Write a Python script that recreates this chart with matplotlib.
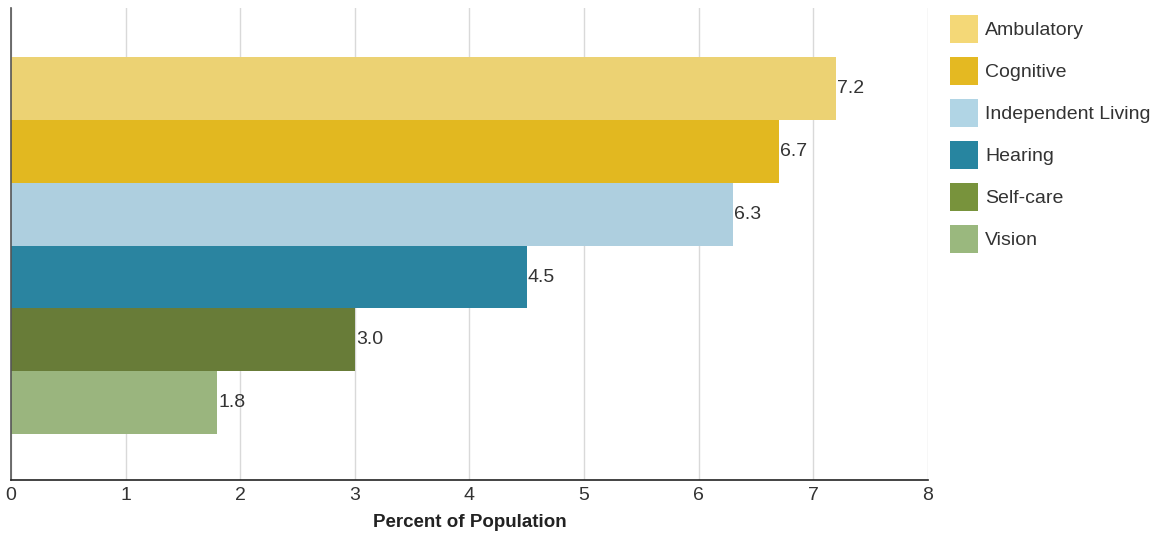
import matplotlib.pyplot as plt
from matplotlib.patches import Patch

# Disability types, percent of population
categorias = ['Ambulatory', 'Cognitive', 'Independent Living', 'Hearing', 'Self-care', 'Vision']
valores = [7.2, 6.7, 6.3, 4.5, 3.0, 1.8]
cores_barra = ['#ECD273', '#E2B820', '#AECFDF', '#2A84A0', '#687C38', '#9AB57E']
cores_legenda = ['#F4D877', '#E4B922', '#B1D5E5', '#2785A0', '#78933C', '#9AB87E']
ticks_x = [0, 1, 2, 3, 4, 5, 6, 7, 8]

plt.rcParams['font.family'] = ['Liberation Sans', 'DejaVu Sans']
cor_texto = '#333333'
fs = 14

fig = plt.figure(figsize=(11.58, 5.35), dpi=100)
ax = fig.add_axes([0.0095, 0.1028, 0.7916, 0.8822])

posicoes = list(range(len(categorias)))
ax.barh(posicoes, valores, height=1.0, color=cores_barra, zorder=2)

for y, v in zip(posicoes, valores):
    ax.text(v + 0.01, y, f'{v:.1f}', va='center', ha='left', fontsize=fs, color=cor_texto, zorder=3)

ax.set_xlim(0, 8)
ax.set_ylim(5.5 + 0.73, -0.5 - 0.78)
ax.set_xticks(ticks_x)
ax.set_xticklabels([str(t) for t in ticks_x], fontsize=fs, color=cor_texto)
ax.set_yticks([])
ax.tick_params(axis='x', length=0, pad=5)
ax.grid(axis='x', color='#d9d9d9', linewidth=1, zorder=0)
ax.set_axisbelow(True)

for lado in ['top', 'right']:
    ax.spines[lado].set_visible(False)
ax.spines['left'].set_color('#555555')
ax.spines['left'].set_linewidth(1.2)
ax.spines['bottom'].set_color('#222222')
ax.spines['bottom'].set_linewidth(1.2)

ax.set_xlabel('Percent of Population', fontsize=13.5, fontweight='bold', color='#222222', labelpad=7)

# legenda com quadrados de 28 px
handles = [Patch(facecolor=c, edgecolor='none') for c in cores_legenda]
fig.legend(handles, categorias, loc='upper left', bbox_to_anchor=(950 / 1158, 1 - 15 / 535),
           frameon=False, fontsize=fs, handlelength=1.44, handleheight=1.84,
           labelspacing=0.72, handletextpad=0.36, borderpad=0, borderaxespad=0,
           labelcolor=cor_texto)

fig.savefig('out.png', dpi=100)
